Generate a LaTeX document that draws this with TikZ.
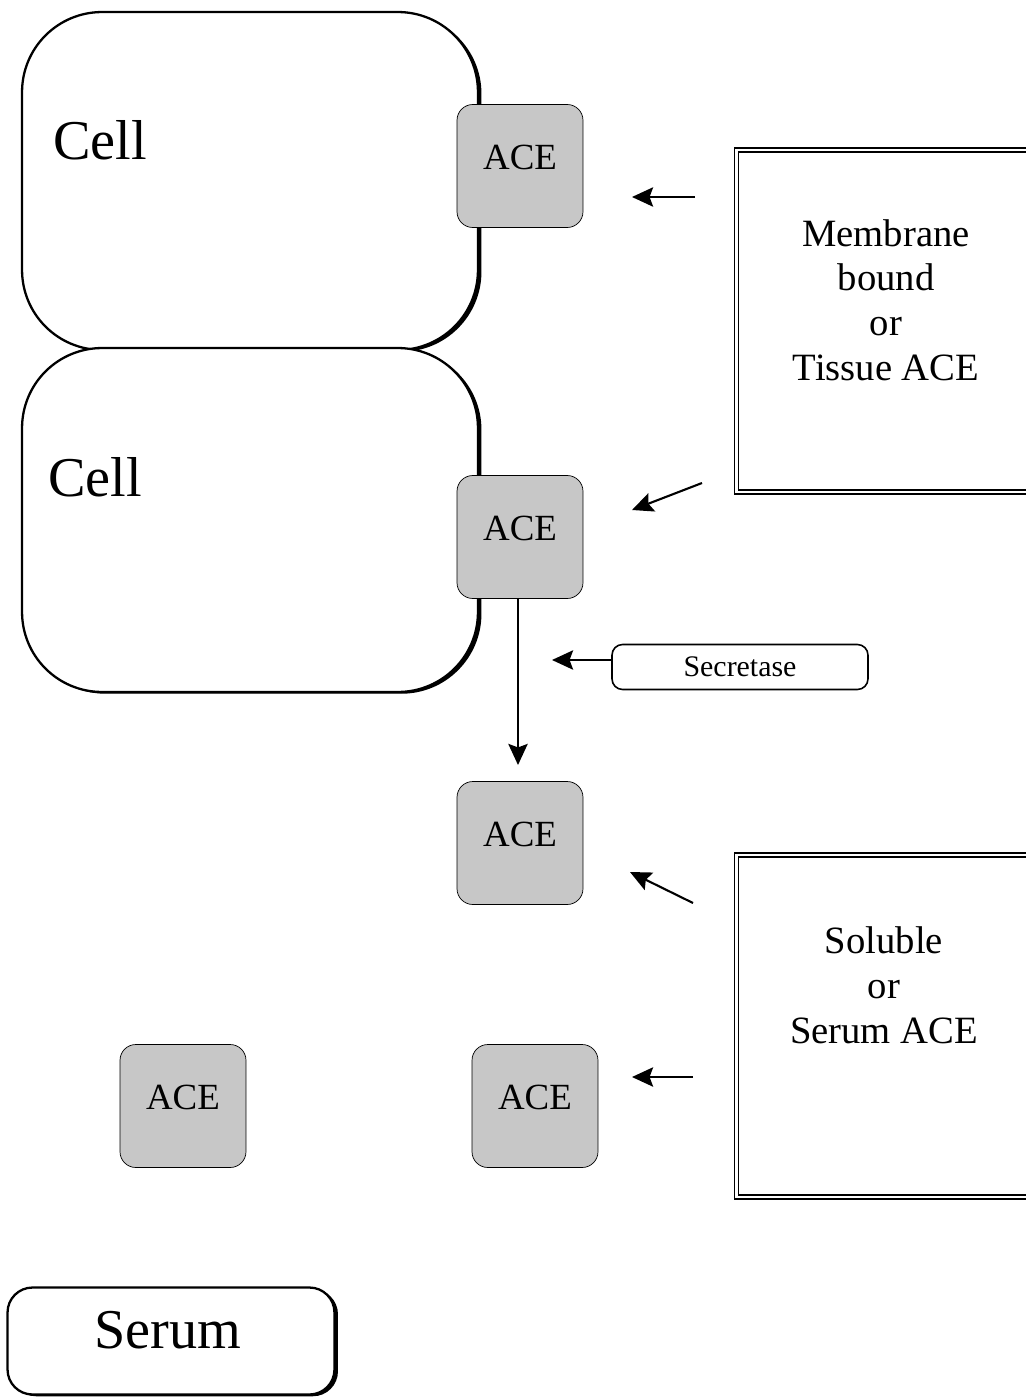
\documentclass[tikz,border=0pt]{standalone}
\usepackage{fontspec}
\setmainfont{Liberation Serif}
\usepackage{tikz}
\usetikzlibrary{shapes,
                arrows.meta,
                positioning,
                shadows}
\tikzset{cell/.style=
   {rectangle,
    draw,
    line width=1.3pt,
    fill=white,
    rounded corners=1.6cm,
    drop shadow={shadow xshift=2pt, shadow yshift=-1pt, fill=black, opacity=1}}}
\tikzset{ace/.style =
   {rectangle,
    draw,
    fill=black!22,
    rounded corners=9pt,
    minimum width=2.52cm,
    minimum height=2.46cm,
    text height=0.5cm,
    text depth=0.36cm,
    font=\fontsize{21}{25}\selectfont}}
\tikzset{info-box/.style =
   {rectangle,
    draw,
    line width=0.8pt,
    double,
    double distance=1.6pt,
    minimum width=6.06cm,
    minimum height=6.84cm}}
\tikzset{info-text/.style =
   {align=center,
    font=\fontsize{22}{25.5}\selectfont}}
\tikzset{tag/.style =
   {rectangle,
    draw,
    line width=0.9pt,
    rounded corners=6pt,
    text centered}}
\tikzset{arrow/.style = {draw, line width=1.2pt, -{Stealth[length=12pt,width=11pt,inset=2pt]}}}

\begin{document}
\begin{tikzpicture}[x=0.02cm, y=-0.02cm]

    \useasboundingbox (0,0) rectangle (1026,1399);
    \clip (0,0) rectangle (1026,1399);

    % cells
    \node [cell, minimum width=9.12cm, minimum height=6.76cm] (cell1) at (250,181) {};
    \node [cell, minimum width=9.12cm, minimum height=6.88cm] (cell2) at (250,520) {};
    \node [font=\fontsize{32}{36}\selectfont] (cell1-label) at (100,140) {Cell};
    \node [font=\fontsize{32}{36}\selectfont] (cell2-label) at (95,477) {Cell};

    % ACE
    \node [ace] (ace1) at (520,166) {ACE};
    \node [ace] (ace2) at (520,537) {ACE};
    \node [ace] (ace3) at (520,843) {ACE};
    \node [ace] (ace4) at (183,1106) {ACE};
    \node [ace] (ace5) at (535,1106) {ACE};

    % explanation boxes
    \node [info-box] (tissue) at (888,321) {};
    \node [info-text] (tissue-text) at (886,300)
    {Membrane\\ bound\\ or\\ Tissue ACE};
    \node [info-box] (serum) at (888,1026) {};
    \node [info-text] (serum-text) at (884,985)
    {Soluble\\ or\\ Serum ACE};

    \node [tag, minimum width=5.12cm, minimum height=0.9cm,
           font=\fontsize{17}{20}\selectfont] (secretase) at (740,667) {Secretase};
    \node [tag, line width=1.3pt, rounded corners=0.5cm, minimum width=6.54cm, minimum height=2.14cm,
           drop shadow={shadow xshift=2pt, shadow yshift=-1pt, fill=black, opacity=1},
           fill=white] (serum-pool) at (171,1341) {};
    \node [font=\fontsize{32}{36}\selectfont] (serum-label) at (168,1330) {Serum};

    % arrows
    \coordinate (a1s) at (695,197);
    \coordinate (a1e) at (632,197);
    \coordinate (a2s) at (702,483);
    \coordinate (a2e) at (632,510);
    \coordinate (a3e) at (552,660);
    \coordinate (a4e) at (518,765);
    \coordinate (a5s) at (693,903);
    \coordinate (a5e) at (630,872);
    \coordinate (a6s) at (693,1077);
    \coordinate (a6e) at (632,1077);

    \path [arrow] (a1s) -- (a1e);
    \path [arrow] (a2s) -- (a2e);
    \path [arrow] (secretase.west |- a3e) -- (a3e);
    \path [arrow] (ace2.south -| a4e) -- (a4e);
    \path [arrow] (a5s) -- (a5e);
    \path [arrow] (a6s) -- (a6e);

\end{tikzpicture}
\end{document}
